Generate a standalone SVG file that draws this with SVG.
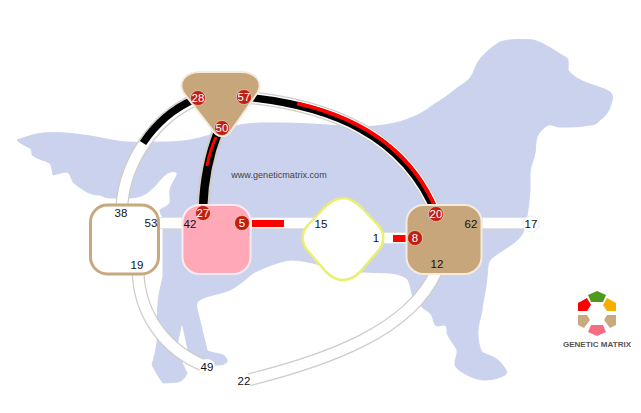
<svg xmlns="http://www.w3.org/2000/svg" width="641" height="413" viewBox="0 0 641 413">
<style>
text{font-family:"Liberation Sans",Arial,sans-serif;font-size:11.5px;text-anchor:middle;fill:#111}
.tube{fill:none;stroke:#cfcdc9;stroke-width:13}
.core{fill:none;stroke:#fff;stroke-width:10.500}
.blk{fill:none;stroke:#000;stroke-width:7.500}
.red{fill:none;stroke:#f00;stroke-width:4}
.bar{fill:#f00}
.badge circle{fill:#c1200e;stroke:#fff;stroke-width:.8;stroke-opacity:.6}
.badge text{fill:#fff}
.tan{fill:#c6a67a;stroke:#f3ebdd;stroke-width:2}
.lg text{font-size:8px;fill:#555;font-weight:bold}
</style>
<rect width="641" height="413" fill="#fff"/>
<path id="dog" fill="#cbd2ee" stroke="#cbd2ee" stroke-width="1" stroke-linejoin="round" d="M17 140C26 137 34 134 43 133C58 132 70 133 83 135C100 137 112 141 127 142C142 143 155 142 167 142C190 142 210 136 230 127C250 122 265 123 280 123C300 123 330 125 352 127C375 127 395 125 413 117C425 112 430 107 433 105C442 100 450 94 457 88C463 84 467 82 470 78C474 73 475 67 478 62C483 54 492 47 500 42C510 39 522 39 533 40C545 43 556 52 567 58C569 61 568 66 568 70C572 76 580 80 587 83C595 86 604 88 610 92C613 95 613 98 612 100C610 110 606 116 600 120C597 124 594 125 590 125C580 127 570 127 560 127C556 127 552 124 548 125C543 128 539 132 537 137C535 143 536 148 535 153C534 160 530 166 530 173L530 190C529 205 527 220 523 233C516 245 500 250 490 260C487 265 488 271 487 277C486 290 483 300 482 310C480 320 477 328 478 337C479 345 480 350 483 353C489 355 494 357 498 360C502 364 505 368 507 372L505 375C498 379 490 380 483 380C475 379 468 376 462 372C459 370 456 368 455 365C454 360 458 356 457 350C454 344 449 339 447 333C447 329 447 327 445 325C442 325 438 327 435 325C433 321 433 316 430 313C427 310 425 310 423 308C419 305 416 301 413 297C411 292 411 285 408 280C405 276 398 274 390 273L363 272C352 272 342 275 333 273C328 270 325 267 320 265C310 262 300 260 290 260C278 262 265 267 253 273C245 280 238 286 230 290C218 295 205 295 197 302C196 306 197 309 198 313C201 325 204 338 207 350C210 353 217 353 223 355C226 357 228 360 227 362C224 365 220 365 217 365L205 366L188 350L182 322L177 345L183 365L187 373C185 379 180 382 177 382L163 383C159 378 156 372 152 365C154 358 156 350 157 343C158 330 157 315 158 303C159 293 161 285 163 277L163 217C161 215 160 213 160 210C163 207 168 207 170 203C171 199 169 195 170 190C171 184 175 180 177 175C178 172 174 171 170 172C166 173 163 177 160 180C156 185 152 189 147 193C142 196 136 198 130 198L110 198C106 198 103 196 100 195C95 195 91 194 87 192C82 189 77 186 73 182C71 178 70 173 67 172C62 172 58 174 53 175C52 171 52 166 50 163C44 160 37 159 32 155C32 152 32 150 30 148C26 146 21 144 17 140Z"/>
<g id="connectors">
<path class="tube" d="M122 204C126 160 155 118 195 100"/><path class="core" d="M122 204C126 160 155 118 195 100"/>
<path class="blk" d="M143 143C155 125 172 109 195 99"/>
<path class="tube" d="M218 132C209 155 204 180 203 208"/><path class="blk" d="M218 132C209 155 204 180 203 208" style="stroke-width:8.500"/>
<path class="red" d="M216 137C212 146 209 155 207 166" style="stroke-width:3"/>
<path class="tube" d="M244 97C330 105 405 135 436 214"/><path class="core" d="M244 97C330 105 405 135 436 214"/>
<path class="blk" d="M244 97C330 105 405 135 436 214"/>
<path class="red" transform="translate(1.300 -1.700)" pathLength="100" stroke-dasharray="0 22 78 0" d="M244 97C330 105 405 135 436 214"/>
<rect x="159" y="217.500" width="23" height="11" fill="#fff" stroke="#e2e0dc"/>
<rect x="251" y="217.500" width="70" height="11" fill="#fff" stroke="#e2e0dc"/>
<rect x="376" y="232.500" width="32" height="11" fill="#fff" stroke="#e2e0dc"/>
<rect x="482" y="217.500" width="50" height="11" fill="#fff" stroke="#e2e0dc"/>
<rect class="bar" x="252" y="220" width="32" height="7"/>
<rect class="bar" x="393" y="235" width="13" height="7"/>
<path class="tube" d="M138 272C140 320 170 352 205 366"/><path class="core" d="M138 272C140 320 170 352 205 366"/>
<path class="tube" d="M436 272C410 330 330 360 244 381"/><path class="core" d="M436 272C410 330 330 360 244 381"/>
</g>
<g id="n-a"><rect x="90.500" y="205" width="68" height="69" rx="17" fill="#fff" stroke="#c8a97e" stroke-width="3"/><text x="121" y="217">38</text><text x="151" y="227">53</text><text x="137" y="269">19</text></g>
<g id="n-b"><rect x="182.500" y="205" width="68" height="69" rx="17" fill="#ffa8b8" stroke="#fdeaee" stroke-width="2"/><text x="190" y="228">42</text><g class="badge"><circle cx="203" cy="213" r="7.500"/><text x="203" y="217">27</text><circle cx="242" cy="223" r="7.500"/><text x="242" y="227">5</text></g></g>
<g id="n-c"><path class="tan" d="M200 72H241C256 72 263 82 258 92L233 128C227 139 217 139 211 128L183 92C178 82 185 72 200 72Z"/><g class="badge"><circle cx="198" cy="98" r="7.500"/><text x="198" y="102">28</text><circle cx="244" cy="97" r="7.500"/><text x="244" y="101">57</text><circle cx="222" cy="128" r="7.500"/><text x="222" y="132">50</text></g></g>
<g id="n-d"><path fill="#fff" stroke="#e9ef6e" stroke-width="2.500" d="M343 198C349 198 356 202 362 208L378 225C385 232 385 244 378 251L360 272C354 278 349 280 343 280C337 280 332 278 326 272L308 251C301 244 301 232 308 225L324 208C330 202 337 198 343 198Z"/><text x="321" y="228">15</text><text x="376" y="242">1</text></g>
<g id="n-e"><rect class="tan" x="406.500" y="205" width="75" height="69" rx="17"/><text x="471" y="228">62</text><text x="437" y="268">12</text><g class="badge"><circle cx="436" cy="214" r="7.500"/><text x="436" y="218">20</text><circle cx="415" cy="238" r="7.500"/><text x="415" y="242">8</text></g></g>
<g id="n-17"><circle cx="531" cy="224" r="8" fill="#fff" stroke="#eeece8"/><text x="531" y="228">17</text></g>
<g id="n-49"><circle cx="207" cy="367" r="8" fill="#fff"/><text x="207" y="371">49</text></g>
<g id="n-22"><circle cx="244" cy="381" r="8" fill="#fff"/><text x="244" y="385">22</text></g>
<text x="279" y="178" style="font-size:9.100px;fill:#444">www.geneticmatrix.com</text>
<g id="logo" class="lg">
<path fill="#4f9a1c" d="M597 291L606 295L603 302H591L588 295Z"/>
<path fill="#f00" d="M578 303L587 298L591 305L587 311H578Z"/>
<path fill="#f7ae00" d="M616 303L607 298L603 305L607 311H616Z"/>
<path fill="#c9aa7e" d="M578 315H587L590 320L584 328L578 325Z"/>
<path fill="#c9aa7e" d="M616 315H607L604 320L610 328L616 325Z"/>
<path fill="#f46d80" d="M591 325H603L606 332L597 336L588 332Z"/>
<text x="597" y="347" textLength="68">GENETIC MATRIX</text>
</g>
</svg>
